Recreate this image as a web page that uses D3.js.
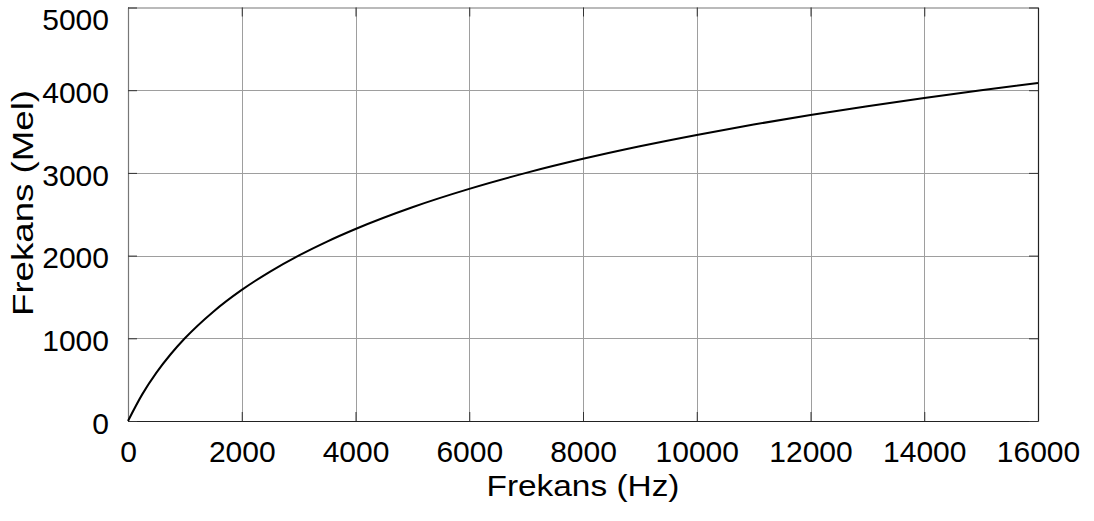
<!DOCTYPE html>
<html>
<head>
<meta charset="utf-8">
<script src="https://cdn.jsdelivr.net/npm/d3@7"></script>
<style>
  html, body { margin: 0; padding: 0; background: #fff; }
  svg { display: block; }
  text { font-family: "Liberation Sans", Arial, Helvetica, sans-serif; fill: #000; }
</style>
</head>
<body>
<svg id="chart" width="1094" height="521"></svg>
<script>
// Frequency (Hz) samples and the corresponding mel values
const freqHz = [0, 250, 500, 750, 1000, 1500, 2000, 2500, 3000, 3500, 4000,
                5000, 6000, 7000, 8000, 9000, 10000, 11000, 12000, 13000,
                14000, 15000, 16000];
const melVals = [0, 322, 585, 807, 1000, 1322, 1585, 1807, 2000, 2170, 2322,
                 2585, 2807, 3000, 3170, 3322, 3459, 3585, 3700, 3807,
                 3907, 4000, 4087];

const xTicks = [0, 2000, 4000, 6000, 8000, 10000, 12000, 14000, 16000];
const yTicks = [0, 1000, 2000, 3000, 4000, 5000];

const xLabel = "Frekans (Hz)";
const yLabel = "Frekans (Mel)";

const svg = d3.select("#chart");
const plotL = 128, plotR = 1038, plotT = 7.5, plotB = 421;
const tickLen = 9;

const x = d3.scaleLinear().domain([0, 16000]).range([plotL, plotR]);
const y = d3.scaleLinear().domain([0, 5000]).range([plotB, plotT]);

// grid
const grid = svg.append("g").attr("stroke", "#9e9e9e").attr("stroke-width", 1);
grid.selectAll(".gx").data(xTicks.slice(1, -1)).join("line")
  .attr("x1", d => Math.round(x(d)) + 0.5).attr("x2", d => Math.round(x(d)) + 0.5)
  .attr("y1", plotT).attr("y2", plotB);
grid.selectAll(".gy").data(yTicks.slice(1, -1)).join("line")
  .attr("y1", d => Math.round(y(d)) + 0.5).attr("y2", d => Math.round(y(d)) + 0.5)
  .attr("x1", plotL).attr("x2", plotR);

// axes with inward ticks (bottom/left labelled, top/right unlabelled)
const fmt = d3.format("d");
const axB = svg.append("g").attr("transform", `translate(0,${plotB})`)
  .call(d3.axisBottom(x).tickValues(xTicks).tickFormat(fmt).tickSizeInner(-tickLen).tickSizeOuter(0).tickPadding(20));
const axT = svg.append("g").attr("transform", `translate(0,${plotT})`)
  .call(d3.axisTop(x).tickValues(xTicks).tickFormat("").tickSizeInner(-tickLen).tickSizeOuter(0));
const axL = svg.append("g").attr("transform", `translate(${plotL},0)`)
  .call(d3.axisLeft(y).tickValues(yTicks).tickFormat(fmt).tickSizeInner(-tickLen).tickSizeOuter(0).tickPadding(19));
const axR = svg.append("g").attr("transform", `translate(${plotR},0)`)
  .call(d3.axisRight(y).tickValues(yTicks).tickFormat("").tickSizeInner(-tickLen).tickSizeOuter(0));

[axB, axT, axL, axR].forEach(a => {
  a.selectAll(".domain").attr("stroke", "#222").attr("stroke-width", 1.2);
  a.selectAll(".tick line").attr("stroke", "#333").attr("stroke-width", 1);
  a.selectAll(".tick text").attr("font-size", 30)
    .attr("font-family", "'Liberation Sans', Arial, sans-serif").attr("fill", "#000");
});
axL.selectAll(".domain").attr("stroke", "#777");
axT.selectAll(".domain").attr("stroke", "#777");
axB.selectAll(".tick text").attr("dy", "0.71em");
// left labels centred on their ticks; the top one kept inside the page edge
axL.selectAll(".tick text").attr("dy", d => d === 5000 ? "0.74em" : "0.41em");

// mel curve
const line = d3.line().x((d, i) => x(freqHz[i])).y(d => y(d)).curve(d3.curveMonotoneX);
svg.append("path").datum(melVals)
  .attr("fill", "none").attr("stroke", "#000").attr("stroke-width", 2)
  .attr("d", line);

// axis titles
svg.append("text").attr("x", (plotL + plotR) / 2).attr("y", 496)
  .attr("text-anchor", "middle").attr("font-size", 30)
  .attr("textLength", 193).attr("lengthAdjust", "spacingAndGlyphs")
  .text(xLabel);
svg.append("text").attr("transform", `translate(33,203) rotate(-90)`)
  .attr("text-anchor", "middle").attr("font-size", 30)
  .attr("textLength", 226).attr("lengthAdjust", "spacingAndGlyphs")
  .text(yLabel);
</script>
</body>
</html>
